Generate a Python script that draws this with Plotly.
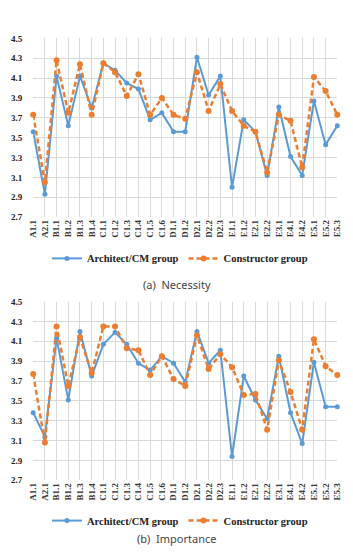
import plotly.graph_objects as go

categories = ["A1.1", "A2.1", "B1.1", "B1.2", "B1.3", "B1.4", "C1.1", "C1.2", "C1.3",
              "C1.4", "C1.5", "C1.6", "D1.1", "D1.2", "D2.1", "D2.2", "D2.3", "E1.1",
              "E1.2", "E2.1", "E2.2", "E3.1", "E4.1", "E4.2", "E5.1", "E5.2", "E5.3"]

nec_arch = [3.56, 2.93, 4.12, 3.62, 4.12, 3.80, 4.25, 4.18, 4.05, 3.99, 3.68, 3.75, 3.56,
            3.56, 4.31, 3.93, 4.12, 3.00, 3.68, 3.56, 3.12, 3.81, 3.31, 3.12, 3.87, 3.43, 3.62]
nec_cons = [3.73, 3.05, 4.28, 3.75, 4.24, 3.73, 4.25, 4.16, 3.92, 4.14, 3.73, 3.90, 3.73,
            3.69, 4.16, 3.77, 4.04, 3.77, 3.62, 3.56, 3.15, 3.73, 3.67, 3.20, 4.11, 3.97, 3.73]

imp_arch = [3.38, 3.14, 4.13, 3.51, 4.20, 3.75, 4.07, 4.19, 4.07, 3.88, 3.81, 3.95, 3.88,
            3.69, 4.20, 3.88, 4.01, 2.94, 3.75, 3.51, 3.32, 3.95, 3.38, 3.07, 3.89, 3.44, 3.44]
imp_cons = [3.77, 3.08, 4.25, 3.65, 4.14, 3.78, 4.25, 4.25, 4.03, 4.01, 3.76, 3.95, 3.72,
            3.65, 4.16, 3.82, 3.97, 3.84, 3.56, 3.57, 3.21, 3.91, 3.59, 3.21, 4.12, 3.85, 3.76]

series_names = ["Architect/CM group", "Constructor group"]
captions = ["(a)  Necessity", "(b)  Importance"]
y_ticks = [2.7, 2.9, 3.1, 3.3, 3.5, 3.7, 3.9, 4.1, 4.3, 4.5]

BLUE = "#5B9BD5"
ORANGE = "#ED7D31"
W, H = 353, 558
serif = "Liberation Serif"

fig = go.Figure()

panels = [(nec_arch, nec_cons, "x", "y", "legend"), (imp_arch, imp_cons, "x2", "y2", "legend2")]
for arch, cons, xa, ya, lg in panels:
    fig.add_trace(go.Scatter(x=categories, y=arch, name=series_names[0], mode="lines+markers",
                             line=dict(color=BLUE, width=2), marker=dict(size=5, color=BLUE),
                             xaxis=xa, yaxis=ya, legend=lg, cliponaxis=False))
    fig.add_trace(go.Scatter(x=categories, y=cons, name=series_names[1], mode="lines+markers",
                             line=dict(color=ORANGE, width=2.5, dash="5px,3px"),
                             marker=dict(size=6, color=ORANGE),
                             xaxis=xa, yaxis=ya, legend=lg, cliponaxis=False))

def py(pix):
    return 1 - pix / H

xdom = [29 / W, 342 / W]
axis_common = dict(showgrid=True, gridcolor="#d9d9d9", gridwidth=1, zeroline=False)
xcommon = dict(axis_common, type="category", range=[0, len(categories) - 1], domain=xdom,
               tickangle=-90, ticks="",
               tickfont=dict(family=serif, size=9, color="#333", weight="bold"),
               showline=False, categoryorder="array", categoryarray=categories)
ycommon = dict(axis_common, range=[2.7, 4.5], tickvals=y_ticks,
               ticktext=[f"{v:.1f}" for v in y_ticks], ticks="",
               tickfont=dict(family=serif, size=9, color="#222", weight="bold"), showline=False,
               ticklabelstandoff=10)

legend_font = dict(family=serif, size=10.5, color="#222", weight="bold")
fig.update_layout(
    width=W, height=H, margin=dict(l=0, r=0, t=0, b=0),
    paper_bgcolor="white", plot_bgcolor="white",
    xaxis=dict(xcommon, anchor="y"),
    yaxis=dict(ycommon, domain=[py(216), py(34)], anchor="x"),
    xaxis2=dict(xcommon, anchor="y2"),
    yaxis2=dict(ycommon, domain=[py(484), py(302)], anchor="x2"),
    legend=dict(orientation="h", x=0.51, xanchor="center", y=py(258), yanchor="middle",
                font=legend_font, bgcolor="rgba(0,0,0,0)", itemwidth=30, tracegroupgap=0),
    legend2=dict(orientation="h", x=0.51, xanchor="center", y=py(525), yanchor="middle",
                 font=legend_font, bgcolor="rgba(0,0,0,0)", itemwidth=30, tracegroupgap=0),
    showlegend=True,
)

fig.add_annotation(text=captions[0], x=0.5, y=py(285), xref="paper", yref="paper",
                   showarrow=False, font=dict(family="Noto Sans", size=11, color="#444"))
fig.add_annotation(text=captions[1], x=0.5, y=py(553), xref="paper", yref="paper",
                   showarrow=False, font=dict(family="Noto Sans", size=11, color="#444"))

fig.write_html("out.html")
